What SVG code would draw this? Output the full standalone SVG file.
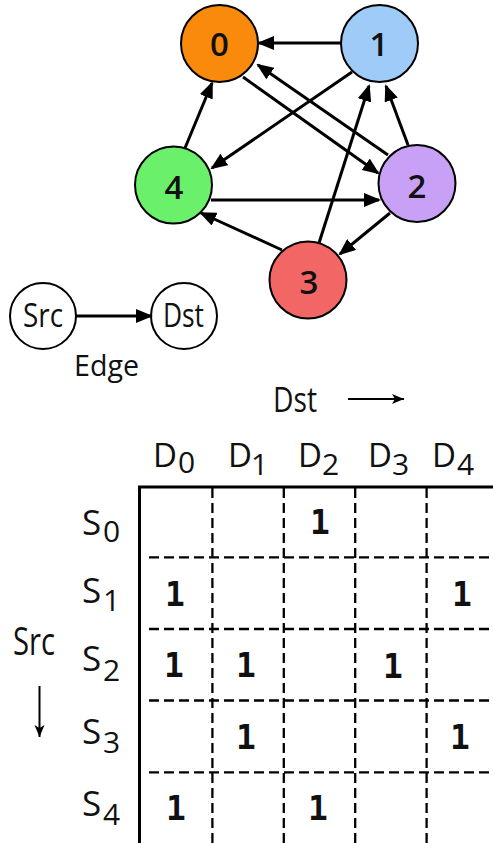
<svg xmlns="http://www.w3.org/2000/svg" width="493" height="843" viewBox="0 0 493 843">
  <style>
    .node { stroke: #000; stroke-width: 2; }
    .nlabel { font-family: "Open Sans", "DejaVu Sans", sans-serif; font-weight: 600; font-size: 33px; text-anchor: middle; fill: #111; }
    .edge { stroke: #000; stroke-width: 3; fill: none; marker-end: url(#ah); }
    .lbl { font-family: "Open Sans", "DejaVu Sans", sans-serif; font-weight: 500; font-size: 32px; fill: #111; }
    .axis { font-family: "Open Sans", "DejaVu Sans", sans-serif; font-weight: 400; fill: #111; }
    .hdr { font-family: "Open Sans", "DejaVu Sans", sans-serif; font-weight: 400; font-size: 33px; fill: #111; }
    .sub { font-size: 30px; }
    .big { font-size: 35px; }
    .one { font-family: "DejaVu Sans Mono", "Liberation Mono", monospace; font-weight: bold; font-size: 33px; text-anchor: middle; fill: #111; }
    .grid { stroke: #000; stroke-width: 2.3; stroke-dasharray: 10 5; fill: none; }
    .frame { stroke: #000; stroke-width: 3; fill: none; }
    .thin { stroke: #000; stroke-width: 2; fill: none; }
  </style>
  <defs>
    <marker id="ah" markerUnits="userSpaceOnUse" markerWidth="17" markerHeight="14" refX="15" refY="7" orient="auto">
      <path d="M0,0 L17,7 L0,14 z" fill="#000"/>
    </marker>
    <marker id="thinhead" markerUnits="userSpaceOnUse" markerWidth="13" markerHeight="11" refX="12" refY="5.5" orient="auto">
      <path d="M0,0.5 L12,5.5 L0,10.5 L3,5.5 z" fill="#000"/>
    </marker>
  </defs>

  <rect width="493" height="843" fill="#fff"/>

  <!-- graph connectors -->
  <g id="edges">
    <line id="e1-0" class="edge" x1="341" y1="43" x2="259" y2="43"/>
    <line id="e0-2" class="edge" x1="243" y1="77" x2="378" y2="173"/>
    <line id="e2-0" class="edge" x1="388" y1="155" x2="258" y2="65"/>
    <line id="e1-4" class="edge" x1="352" y1="72" x2="212" y2="168"/>
    <line id="e2-1" class="edge" x1="408" y1="145" x2="386" y2="86"/>
    <line id="e3-1" class="edge" x1="319" y1="243" x2="369" y2="86"/>
    <line id="e4-0" class="edge" x1="185" y1="148" x2="212" y2="83"/>
    <line id="e4-2" class="edge" x1="211" y1="200" x2="379" y2="200"/>
    <line id="e2-3" class="edge" x1="390" y1="213" x2="340" y2="254"/>
    <line id="e3-4" class="edge" x1="282" y1="250" x2="201" y2="213"/>
  </g>

  <!-- graph nodes -->
  <g id="node0">
    <circle class="node" cx="219.5" cy="43.5" r="38.5" fill="#F98A0B"/>
    <text class="nlabel" x="219.5" y="56">0</text>
  </g>
  <g id="node1">
    <circle class="node" cx="379.5" cy="43.5" r="38.5" fill="#9ECBF7"/>
    <text class="nlabel" x="379" y="56">1</text>
  </g>
  <g id="node2">
    <circle class="node" cx="417" cy="183.5" r="38.5" fill="#C8A0F5"/>
    <text class="nlabel" x="417" y="198">2</text>
  </g>
  <g id="node3">
    <circle class="node" cx="308" cy="280" r="38.5" fill="#F36666"/>
    <text class="nlabel" x="309" y="294">3</text>
  </g>
  <g id="node4">
    <circle class="node" cx="173.5" cy="185" r="38.5" fill="#6BF06B"/>
    <text class="nlabel" x="174" y="199">4</text>
  </g>

  <!-- legend -->
  <g id="legend">
    <g id="legend-src">
      <circle class="node" cx="43" cy="316" r="33" fill="#fff"/>
      <text class="lbl" x="23" y="327" textLength="40" lengthAdjust="spacingAndGlyphs">Src</text>
    </g>
    <g id="legend-dst">
      <circle class="node" cx="184" cy="316" r="33" fill="#fff"/>
      <text class="lbl" x="163" y="327" textLength="41" lengthAdjust="spacingAndGlyphs">Dst</text>
    </g>
    <line class="edge" x1="76" y1="316" x2="151" y2="316"/>
    <text class="lbl" x="74" y="376" style="font-size:29px" textLength="65" lengthAdjust="spacingAndGlyphs">Edge</text>
  </g>

  <!-- matrix axis labels -->
  <g id="axis-dst">
    <text class="axis" x="273" y="412" style="font-size:34px" textLength="44" lengthAdjust="spacingAndGlyphs">Dst</text>
    <line class="thin" x1="348" y1="399" x2="404" y2="399" marker-end="url(#thinhead)"/>
  </g>
  <g id="axis-src">
    <text class="axis" x="13" y="655" style="font-size:38px" textLength="42" lengthAdjust="spacingAndGlyphs">Src</text>
    <line class="thin" x1="39.5" y1="686" x2="39.5" y2="737" marker-end="url(#thinhead)"/>
  </g>

  <!-- column headers -->
  <g id="col-headers" class="hdr">
    <text x="153" y="467">D<tspan class="sub" x="178" dy="6">0</tspan></text>
    <text x="228" y="467">D<tspan class="sub" x="251" dy="8">1</tspan></text>
    <text x="298" y="467">D<tspan class="sub" x="322" dy="8">2</tspan></text>
    <text x="368" y="467">D<tspan class="sub" x="392" dy="8">3</tspan></text>
    <text x="432" y="467">D<tspan class="sub" x="457" dy="8">4</tspan></text>
  </g>

  <!-- row headers -->
  <g id="row-headers" class="hdr">
    <text x="82" y="535"><tspan class="big">S</tspan><tspan class="sub" x="103" dy="7">0</tspan></text>
    <text x="82" y="603"><tspan class="big">S</tspan><tspan class="sub" x="103" dy="8">1</tspan></text>
    <text x="82" y="671"><tspan class="big">S</tspan><tspan class="sub" x="103" dy="10">2</tspan></text>
    <text x="82" y="744"><tspan class="big">S</tspan><tspan class="sub" x="103" dy="9">3</tspan></text>
    <text x="82" y="816"><tspan class="big">S</tspan><tspan class="sub" x="103" dy="9">4</tspan></text>
  </g>

  <!-- adjacency matrix grid -->
  <g id="matrix-grid">
    <path class="grid" d="M212.4,488 V843 M283.8,488 V843 M355.2,488 V843 M426.6,488 V843"/>
    <path class="grid" d="M149,557.3 H493 M149,629 H493 M149,700.5 H493 M149,772.3 H493"/>
    <path class="frame" d="M139.5,843 V487 H493"/>
  </g>

  <!-- matrix entries -->
  <g id="matrix-values" class="one">
    <text x="320" y="534">1</text>
    <text x="175" y="606">1</text>
    <text x="462" y="606">1</text>
    <text x="174" y="677">1</text>
    <text x="246" y="677">1</text>
    <text x="393" y="678">1</text>
    <text x="246" y="749">1</text>
    <text x="460" y="749">1</text>
    <text x="176" y="820">1</text>
    <text x="318" y="820">1</text>
  </g>
</svg>
